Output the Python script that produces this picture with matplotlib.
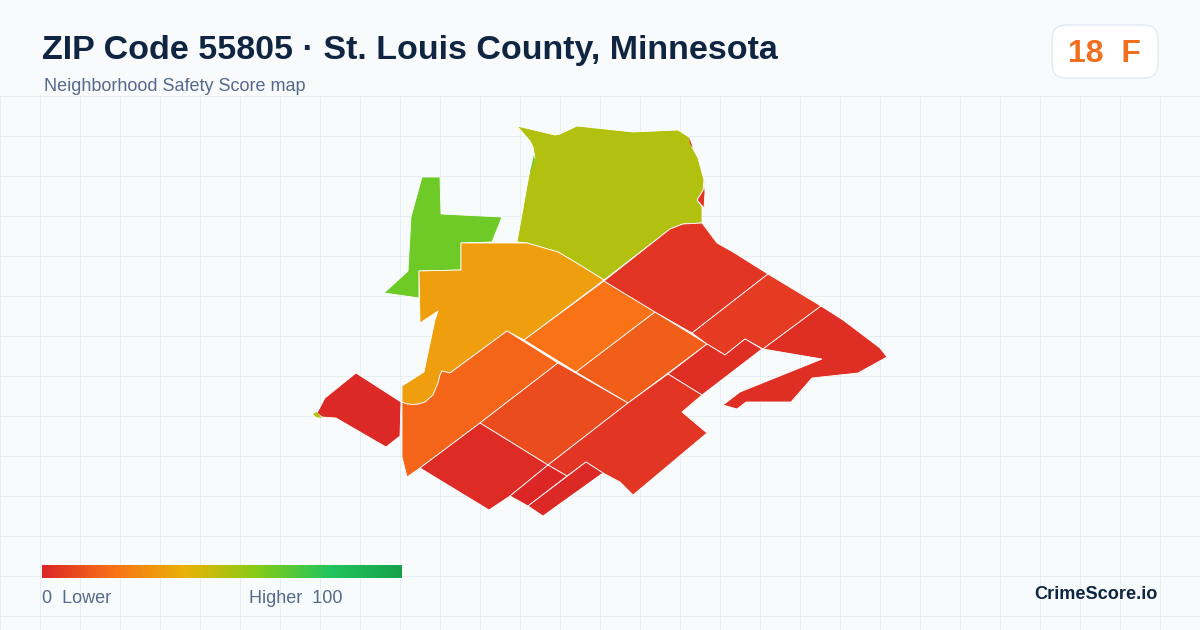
import matplotlib
matplotlib.use("Agg")
import matplotlib.pyplot as plt
from matplotlib.colors import LinearSegmentedColormap
from matplotlib.patches import Polygon, FancyBboxPatch
import numpy as np

plt.rcParams['font.family'] = ['Liberation Sans', 'DejaVu Sans']

TITLE = "ZIP Code 55805 · St. Louis County, Minnesota"
SUBTITLE = "Neighborhood Safety Score map"
BADGE = "18  F"
BRAND = "CrimeScore.io"

stop_positions = [0, .2, .4, .6, .8, 1]
stop_colors = ["#dc2626", "#f97316", "#eab308", "#84cc16", "#22c55e", "#16a34a"]

west_red = [(356,373),(401,402),(400,436),(386,447),(336,418),(322,417),(317,413),(325,398)]
west_sliver = [(313,414),(317,412),(322,418),(316,417)]
green_tract = [(422,177),(440,177),(441,214),(502,217),(492,242),(461,243),(461,270),(419,271),(419,298),(384,293),(408,271),(411,217)]
green_sliver = [(534,155),(535,160),(531,172),(530,172)]
red_sliver_n = [(689,137),(693,148),(690,144)]
red_sliver_e = [(704,180),(705,192),(704,208),(697,200),(703,190)]
olive_tract = [(517,126),(555,135),(560,134),(577,126),(633,132),(678,130),(689,137),(692,147),(698,158),(704,180),(703,190),(697,200),(702,207),(702,223),(683,224),(670,229),(604,280),(575,262),(558,252),(527,243),(517,242),(529,175),(535,158),(533,147),(530,141)]
amber_tract = [(419,271),(461,270),(461,243),(527,243),(558,252),(575,262),(604,280),(524,340),(507,331),(450,373),(442,371),(440,375),(438,383),(433,395),(425,402),(419,404),(413,404.5),(407,404),(402,402),(402,386),(424,372),(435,320),(438,311),(420,323)]
tract_a = [(604,281),(655,312),(576,372),(524,340)]
tract_b = [(655,312),(707,344),(628,403),(576,372)]
tract_c = [(507,331),(558,363),(480,423),(420,468),(407,477),(402,457),(402,402),(407,404),(413,404.5),(419,404),(425,402),(433,395),(438,383),(440,375),(442,371),(450,373)]
tract_d = [(558,363),(628,403),(548,465),(480,423)]
tract_e = [(604,281),(670,229),(683,224),(702,223),(717,243),(733,252),(768,274),(692,333),(655,312)]
tract_f = [(768,274),(821,306),(763,349),(745,339),(725,355),(707,344),(692,333)]
tract_g = [(821,306),(843,320),(880,348),(887,357),(858,373),(812,378),(791,402),(746,402),(737,409),(723,405),(740,392),(822,359),(763,349)]
tract_h = [(707,344),(725,355),(745,339),(762,349),(702,395),(668,374)]
tract_i = [(668,374),(702,395),(682,412),(707,433),(633,495),(620,482),(603,473),(586,462),(567,476),(548,465),(628,403)]
tract_j = [(480,423),(548,465),(510,496),(489,510),(420,468)]
tract_k = [(548,465),(567,476),(528,506),(510,496)]
tract_l = [(586,462),(603,473),(543,516),(528,506)]

main_tracts = [red_sliver_e, west_red, green_tract, olive_tract, amber_tract,
               tract_a, tract_b, tract_c, tract_d, tract_e, tract_f, tract_g, tract_h, tract_i, tract_j, tract_k, tract_l]
main_scores = [4, 1, 64.5, 51, 33.5, 20, 14.5, 16.5, 10, 4, 5.5, 2.6, 2.6, 4, 1.5, 0, 1]
sliver_tracts = [red_sliver_n, green_sliver, west_sliver]
sliver_scores = [4, 64, 50]

fig = plt.figure(figsize=(12, 6.3), dpi=100, facecolor="#f8fafc")
ax = fig.add_axes([0, 0, 1, 1])
ax.set_axis_off()

ax.add_patch(plt.Rectangle((0, 96), 1200, 534, facecolor="#f8fbfc", edgecolor="none", zorder=0))
GRID = "#e6eef2"
vl = ax.vlines(np.arange(0.5, 1200, 40), 96, 630, color=GRID, lw=0.72, zorder=1)
hl = ax.hlines(np.arange(96.5, 630, 40), 0, 1200, color=GRID, lw=0.72, zorder=1)
vl.set_snap(False)
hl.set_snap(False)

cmap = LinearSegmentedColormap.from_list("score", list(zip(stop_positions, stop_colors)))
for outline, score in zip(main_tracts, main_scores):
    ax.add_patch(Polygon(outline, closed=True, facecolor=cmap(score / 100), edgecolor="white",
                         lw=0.6, joinstyle="miter", zorder=3))
for outline, score in zip(sliver_tracts, sliver_scores):
    ax.add_patch(Polygon(outline, closed=True, facecolor=cmap(score / 100), edgecolor="none", zorder=3.5))

ax.imshow(np.linspace(0, 1, 360)[None, :], cmap=cmap, vmin=0, vmax=1, extent=(42, 402, 578, 565),
          aspect="auto", zorder=4, interpolation="bilinear")
ax.set_xlim(0, 1200)
ax.set_ylim(630, 0)

ax.add_patch(FancyBboxPatch((1052, 25), 106, 53, boxstyle="round,pad=0,rounding_size=14",
                            facecolor="#ffffff", edgecolor="#e2e8f0", lw=0.9, zorder=4))

NAVY = "#0f2542"
SLATE = "#55698a"
px = 0.72
ax.text(42, 59, TITLE, fontsize=34*px, fontweight="bold", color=NAVY, va="baseline", zorder=5)
ax.text(44, 91, SUBTITLE, fontsize=18*px, color=SLATE, va="baseline", zorder=5)
ax.text(1104.5, 62, BADGE, fontsize=32*px, fontweight="bold", color="#f0701e", ha="center", va="baseline", zorder=5)
ax.text(42, 603, "0  Lower", fontsize=18*px, color=SLATE, va="baseline", zorder=5)
ax.text(249, 603, "Higher  100", fontsize=18*px, color=SLATE, va="baseline", zorder=5)
ax.text(1158, 599, BRAND, fontsize=18.1*px, fontweight="bold", color=NAVY, ha="right", va="baseline", zorder=5)

fig.savefig("out.png", dpi=100, facecolor=fig.get_facecolor())
